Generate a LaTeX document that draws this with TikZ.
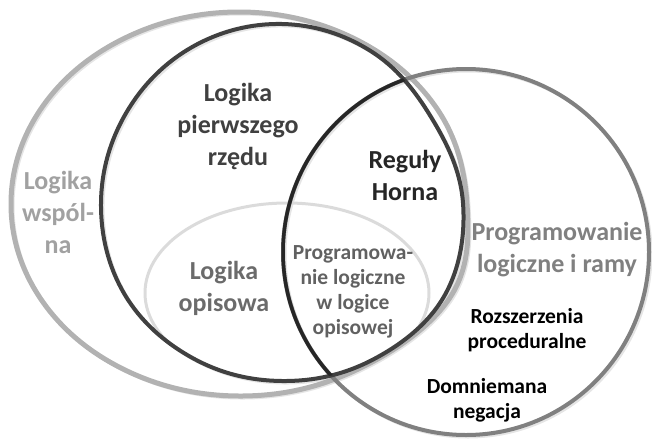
\documentclass[tikz,border=0pt]{standalone}
\usepackage{fontspec}
\setmainfont{Carlito}
\usetikzlibrary{positioning}
\definecolor{wspolna}{gray}{0.70}
\definecolor{pierwszy}{gray}{0.25}
\definecolor{ramy}{gray}{0.50}
\definecolor{opis}{gray}{0.86}
\definecolor{cien}{gray}{0.90}
\def\duzy{\fontsize{26}{32}\selectfont\bfseries}
\def\maly{\fontsize{21.5}{25}\selectfont\bfseries}
% obrysy zbiorow
\def\zbiorWsp{plot[smooth cycle, tension=0.64] coordinates {(467,204) (449,299) (354,371) (239,396) (125,370) (41.5,300) (11,204) (41.5,108) (125,38) (239,12) (353,38) (436.5,108)}}
\def\zbiorFOL{plot[smooth cycle, tension=0.64] coordinates {(463,203) (444,296.5) (372.5,359.8) (282,381) (192.5,358) (124.4,294) (101,203) (126.1,113) (192,47.1) (282,24) (370,50.6) (431,117)}}

\begin{document}
\begin{tikzpicture}[x=1pt, y=-1pt,
  duza/.style={font=\duzy, align=center},
  mala/.style={font=\maly, align=center},
  cienlinia/.style={cien, line width=3pt, shift={(2,2)}}]
\useasboundingbox (0,0) rectangle (652,439);
% cienie
\draw[cienlinia] \zbiorWsp;
\draw[cienlinia] (466,252) circle [radius=183pt];
\draw[cienlinia] \zbiorFOL;
% logika wspolna
\draw[wspolna, line width=5pt] \zbiorWsp;
% logika opisowa
\begin{scope}
\clip \zbiorFOL;
\draw[opis, line width=3pt] (287,293) ellipse [x radius=142pt, y radius=90pt];
\end{scope}
% programowanie logiczne i ramy
\draw[ramy, line width=4pt] (466,252) circle [radius=183pt];
% logika pierwszego rzedu
\draw[pierwszy, line width=4pt] \zbiorFOL;
\begin{scope}
\clip \zbiorFOL;
\draw[black!85, line width=3.5pt] (466,252) circle [radius=183pt];
\end{scope}

\node[duza, wspolna!90!black] (wsp) at (58, 212) {Logika\\wspól-\\na};
\node[duza, pierwszy] (fol) at (238, 126) {Logika\\pierwszego\\rzędu};
\node[duza, black!85] (horn) at (405, 175) {Reguły\\Horna};
\node[duza, ramy] (ramy) at (557, 250) {Programowanie\\logiczne i ramy};
\node[duza, black!58] (dl) at (224, 288) {Logika\\opisowa};
\node[mala, black!62] (dlp) at (353, 292) {Programowa-\\nie logiczne\\w logice\\opisowej};
\node[mala, black] (proc) at (527, 330) {Rozszerzenia\\proceduralne};
\node[mala, black] (neg) at (487, 400) {Domniemana\\negacja};
\end{tikzpicture}
\end{document}
